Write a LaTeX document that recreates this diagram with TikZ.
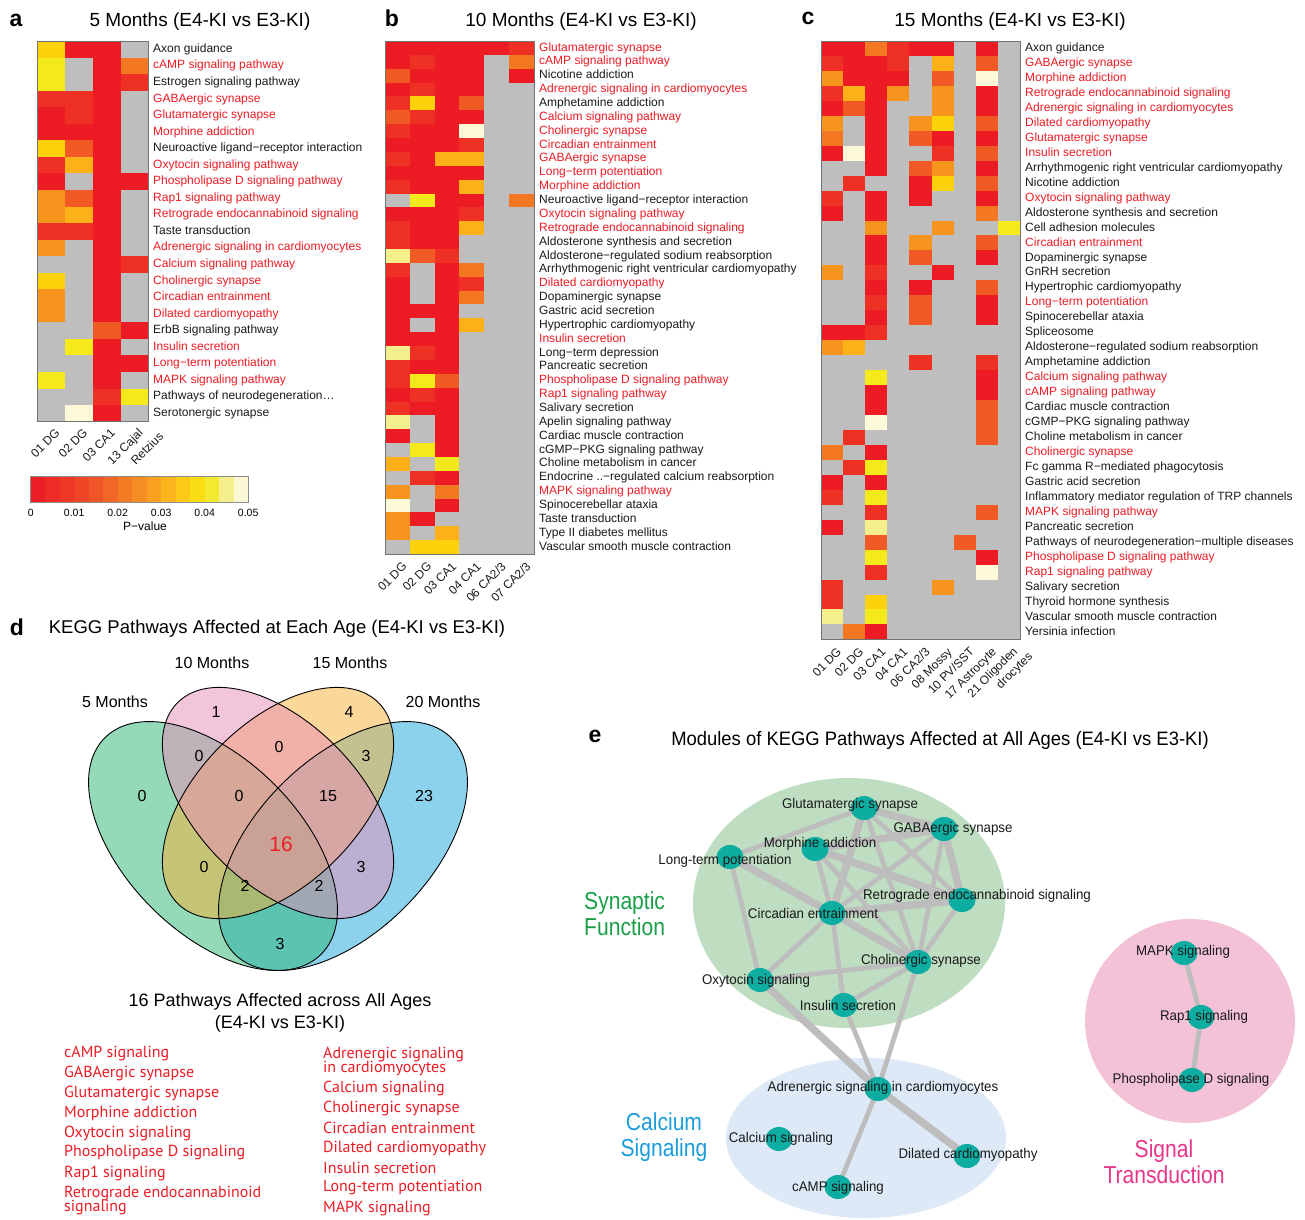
\documentclass[tikz,border=0pt]{standalone}
\usepackage{fontspec}
\setmainfont{Liberation Sans}
\newfontfamily\listfont{PT Sans}
\newfontfamily\netfont[FakeStretch=0.95]{Liberation Sans}
\newfontfamily\modfont[FakeStretch=0.86]{Liberation Sans}
\usetikzlibrary{shapes.geometric}
\definecolor{hmR}{HTML}{ED1C24}
\definecolor{hmr}{HTML}{EE3124}
\definecolor{hmO}{HTML}{F15A24}
\definecolor{hmo}{HTML}{F47721}
\definecolor{hmA}{HTML}{F7941D}
\definecolor{hmB}{HTML}{FBB117}
\definecolor{hmY}{HTML}{FDD20A}
\definecolor{hmy}{HTML}{F4EA1B}
\definecolor{hmL}{HTML}{F5F08C}
\definecolor{hmC}{HTML}{FCF9D9}
\definecolor{hmG}{HTML}{BEBEBE}
\definecolor{labk}{HTML}{1A1A1A}
\definecolor{labr}{HTML}{ED1C24}
\definecolor{vgreen}{HTML}{2BB573}
\definecolor{vpink}{HTML}{E98DB9}
\definecolor{vorange}{HTML}{F9B135}
\definecolor{vblue}{HTML}{1DA7DD}
\definecolor{mgreen}{HTML}{BFDDC1}
\definecolor{mblue}{HTML}{DDE9F6}
\definecolor{mpink}{HTML}{F3C2D6}
\definecolor{nodeteal}{HTML}{0DADA1}
\definecolor{edgegray}{HTML}{BDBDBD}
\definecolor{tgreen}{HTML}{1A9F48}
\definecolor{tblue}{HTML}{1B9DDB}
\definecolor{tpink}{HTML}{E8358A}
\pgfdeclarelayer{bgl}
\pgfdeclarelayer{edl}
\pgfsetlayers{bgl,edl,main}
\newcommand\myfs[1]{\fontsize{#1}{#1}\selectfont}
% #1 x0, #2 y0, #3 w, #4 h, #5 data
\newcommand\hmgrid[5]{\foreach \row [count=\i] in {#5} {\foreach \c [count=\j] in \row {\fill[fill=hm\c] ({#1+(\j-1)*#3},{#2+(\i-1)*#4}) rectangle ++(#3,#4);}}}
% #1 x, #2 y0, #3 h, #4 list, #5 name prefix
\newcommand\hmlabels[5]{\foreach \cc/\lbl [count=\i] in {#4} {\node[hmlab,text=lab\cc] (#5\i) at (#1,{#2+(\i-0.5)*#3}) {\lbl};}}
\begin{document}
\begin{tikzpicture}[x=1pt,y=-1pt,
  hmlab/.style={anchor=west,inner sep=0pt,font=\myfs{12},text height=8.6pt,text depth=2.4pt},
  collab/.style={anchor=east,rotate=45,inner sep=0pt,font=\myfs{12},text height=8.6pt,text depth=2.4pt,text=labk},
  hmborder/.style={draw=black!55,line width=0.6pt},
  ptitle/.style={font=\myfs{19},inner sep=0pt},
  pletter/.style={font=\myfs{23}\bfseries,inner sep=0pt},
  vlab/.style={font=\myfs{16},inner sep=0pt},
  vnum/.style={font=\myfs{16},inner sep=0pt},
  listtxt/.style={font=\listfont\myfs{16},text=labr,anchor=west,inner sep=0pt,align=left},
  pnode/.style={ellipse,fill=nodeteal,minimum width=27pt,minimum height=24pt,inner sep=0pt},
  plab/.style={font=\netfont\myfs{14},inner sep=0pt,text=black!90},
  thinedge/.style={draw=edgegray,line width=4.8pt},
  thickedge/.style={draw=edgegray,line width=7.5pt},
  modlab/.style={font=\modfont\fontsize{24.5}{26}\selectfont,inner sep=0pt}]
\begin{pgfonlayer}{bgl}
  \fill[white] (0,0) rectangle (1305,1219);
\end{pgfonlayer}
\useasboundingbox (0,0) rectangle (1305,1219);

%================ panel a
\node[pletter] (pa) at (16,20) {a};
\node[ptitle] (ta) at (200,22) {5 Months (E4-KI vs E3-KI)};
\hmgrid{37.5}{41}{27.7}{16.55}{{Y,R,R,G},{y,G,R,o},{y,G,R,r},{r,r,R,G},{R,r,R,G},{R,R,R,G},{Y,O,R,G},{r,B,R,G},{R,G,R,R},{A,O,R,G},{A,B,R,G},{r,r,R,G},{A,G,R,G},{G,G,R,r},{Y,G,R,G},{A,G,R,G},{A,G,R,G},{G,G,O,R},{G,y,R,G},{G,G,R,R},{y,G,R,G},{G,G,r,y},{G,C,R,G}}
\draw[hmborder] (37.5,41) rectangle (148.3,421.7);
\hmlabels{153}{41}{16.55}{k/Axon guidance, r/cAMP signaling pathway, k/Estrogen signaling pathway, r/GABAergic synapse, r/Glutamatergic synapse, r/Morphine addiction, k/Neuroactive ligand−receptor interaction, r/Oxytocin signaling pathway, r/Phospholipase D signaling pathway, r/Rap1 signaling pathway, r/Retrograde endocannabinoid signaling, k/Taste transduction, r/Adrenergic signaling in cardiomyocytes, r/Calcium signaling pathway, r/Cholinergic synapse, r/Circadian entrainment, r/Dilated cardiomyopathy, k/ErbB signaling pathway, r/Insulin secretion, r/Long−term potentiation, r/MAPK signaling pathway, k/Pathways of neurodegeneration\ldots, k/Serotonergic synapse}{la}
\node[collab] (ca1) at (58.4,431.7) {01 DG};
\node[collab] (ca2) at (86.1,431.7) {02 DG};
\node[collab] (ca3) at (113.8,431.7) {03 CA1};
\node[collab] (ca4) at (141.5,431.7) {13 Cajal};
\node[collab] (ca5) at (162,435) {Retzius};
% colour bar
\foreach \cc [count=\k] in {ED1F26,EE2B27,EF3727,F04527,F15527,F26626,F47A24,F68D22,F8A01F,FAB41C,FCC917,FADE14,F3E930,F4EF8A,FBF8D6}
  {\definecolor{cbtmp}{HTML}{\cc}\fill[cbtmp] ({30.7+(\k-1)*14.5},476) rectangle ++(14.5,26);}
\draw[black!45,line width=0.6pt] (30.7,476) rectangle (248.2,502);
\foreach \v [count=\k from 0] in {0,0.01,0.02,0.03,0.04,0.05}
  {\node[font=\myfs{10.5},inner sep=0pt] (cbt\k) at ({30.7+\k*43.5},513) {\v};}
\node[font=\myfs{12},inner sep=0pt] (cbl) at (145,526) {P−value};

%================ panel b
\node[pletter] (pb) at (392,18) {b};
\node[ptitle] (tb) at (581,22) {10 Months (E4-KI vs E3-KI)};
\hmgrid{385}{41}{24.8}{13.865}{{R,R,R,R,R,r},{R,r,R,R,G,o},{O,R,R,R,G,R},{R,r,R,R,G,G},{r,Y,R,O,G,G},{O,r,R,R,G,G},{r,R,R,C,G,G},{R,R,R,r,G,G},{r,R,B,B,G,G},{R,R,R,R,G,G},{r,R,R,B,G,G},{G,y,R,R,G,o},{R,R,R,r,G,G},{r,R,R,B,G,G},{r,R,R,G,G,G},{L,O,r,G,G,G},{r,G,R,o,G,G},{R,G,R,r,G,G},{R,G,R,o,G,G},{R,R,R,G,G,G},{R,G,R,B,G,G},{R,R,R,G,G,G},{L,r,R,G,G,G},{r,R,R,G,G,G},{r,y,O,G,G,G},{R,r,R,G,G,G},{r,R,R,G,G,G},{L,G,R,G,G,G},{R,G,R,G,G,G},{G,y,R,G,G,G},{B,G,y,G,G,G},{G,r,R,G,G,G},{A,G,o,G,G,G},{C,G,R,G,G,G},{A,R,G,G,G,G},{A,G,B,G,G,G},{G,Y,Y,G,G,G}}
\draw[hmborder] (385,41) rectangle (533.8,554);
\hmlabels{539}{41}{13.865}{r/Glutamatergic synapse, r/cAMP signaling pathway, k/Nicotine addiction, r/Adrenergic signaling in cardiomyocytes, k/Amphetamine addiction, r/Calcium signaling pathway, r/Cholinergic synapse, r/Circadian entrainment, r/GABAergic synapse, r/Long−term potentiation, r/Morphine addiction, k/Neuroactive ligand−receptor interaction, r/Oxytocin signaling pathway, r/Retrograde endocannabinoid signaling, k/Aldosterone synthesis and secretion, k/Aldosterone−regulated sodium reabsorption, k/Arrhythmogenic right ventricular cardiomyopathy, r/Dilated cardiomyopathy, k/Dopaminergic synapse, k/Gastric acid secretion, k/Hypertrophic cardiomyopathy, r/Insulin secretion, k/Long−term depression, k/Pancreatic secretion, r/Phospholipase D signaling pathway, r/Rap1 signaling pathway, k/Salivary secretion, k/Apelin signaling pathway, k/Cardiac muscle contraction, k/cGMP−PKG signaling pathway, k/Choline metabolism in cancer, k/Endocrine .\kern0pt.−regulated calcium reabsorption, r/MAPK signaling pathway, k/Spinocerebellar ataxia, k/Taste transduction, k/Type II diabetes mellitus, k/Vascular smooth muscle contraction}{lb}
\node[collab] (cb1) at (405.4,565) {01 DG};
\node[collab] (cb2) at (430.2,565) {02 DG};
\node[collab] (cb3) at (455,565) {03 CA1};
\node[collab] (cb4) at (479.8,565) {04 CA1};
\node[collab] (cb5) at (504.6,565) {06 CA2/3};
\node[collab] (cb6) at (529.4,565) {07 CA2/3};

%================ panel c
\node[pletter] (pc) at (808,18) {c};
\node[ptitle] (tc) at (1010,22) {15 Months (E4-KI vs E3-KI)};
\hmgrid{821}{41}{22.1}{14.96}{{R,R,o,r,R,R,G,R,G},{r,R,R,r,G,B,G,O,G},{A,R,R,R,G,O,G,C,G},{r,B,R,A,G,A,G,R,G},{R,O,R,G,G,A,G,R,G},{A,G,R,G,A,Y,G,O,G},{o,G,R,G,O,R,G,R,G},{R,C,R,G,G,r,G,O,G},{G,G,R,G,O,A,G,R,G},{G,r,G,G,R,Y,G,O,G},{r,G,R,G,R,G,G,R,G},{R,G,R,G,G,G,G,o,G},{G,G,A,G,G,A,G,G,y},{G,G,R,G,A,G,G,O,G},{G,G,R,G,O,G,G,R,G},{A,G,r,G,G,R,G,G,G},{G,G,R,G,R,G,G,O,G},{G,G,r,G,O,G,G,R,G},{G,G,R,G,O,G,G,R,G},{R,R,r,G,G,G,G,G,G},{A,B,G,G,G,G,G,G,G},{G,G,G,G,r,G,G,r,G},{G,G,y,G,G,G,G,R,G},{G,G,R,G,G,G,G,R,G},{G,G,R,G,G,G,G,O,G},{G,G,C,G,G,G,G,O,G},{G,r,G,G,G,G,G,O,G},{o,G,R,G,G,G,G,G,G},{G,r,y,G,G,G,G,G,G},{R,G,R,G,G,G,G,G,G},{r,G,y,G,G,G,G,G,G},{G,G,r,G,G,G,G,O,G},{R,G,L,G,G,G,G,G,G},{G,G,O,G,G,G,O,G,G},{G,G,y,G,G,G,G,R,G},{G,G,r,G,G,G,G,C,G},{r,G,G,G,G,A,G,G,G},{r,G,Y,G,G,G,G,G,G},{L,G,y,G,G,G,G,G,G},{G,o,R,G,G,G,G,G,G}}
\draw[hmborder] (821,41) rectangle (1019.9,639.4);
\hmlabels{1025}{41}{14.96}{k/Axon guidance, r/GABAergic synapse, r/Morphine addiction, r/Retrograde endocannabinoid signaling, r/Adrenergic signaling in cardiomyocytes, r/Dilated cardiomyopathy, r/Glutamatergic synapse, r/Insulin secretion, k/Arrhythmogenic right ventricular cardiomyopathy, k/Nicotine addiction, r/Oxytocin signaling pathway, k/Aldosterone synthesis and secretion, k/Cell adhesion molecules, r/Circadian entrainment, k/Dopaminergic synapse, k/GnRH secretion, k/Hypertrophic cardiomyopathy, r/Long−term potentiation, k/Spinocerebellar ataxia, k/Spliceosome, k/Aldosterone−regulated sodium reabsorption, k/Amphetamine addiction, r/Calcium signaling pathway, r/cAMP signaling pathway, k/Cardiac muscle contraction, k/cGMP−PKG signaling pathway, k/Choline metabolism in cancer, r/Cholinergic synapse, k/Fc gamma R−mediated phagocytosis, k/Gastric acid secretion, k/Inflammatory mediator regulation of TRP channels, r/MAPK signaling pathway, k/Pancreatic secretion, k/Pathways of neurodegeneration−multiple diseases, r/Phospholipase D signaling pathway, r/Rap1 signaling pathway, k/Salivary secretion, k/Thyroid hormone synthesis, k/Vascular smooth muscle contraction, k/Yersinia infection}{lc}
\node[collab] (cc1) at (840,650.4) {01 DG};
\node[collab] (cc2) at (862.2,650.4) {02 DG};
\node[collab] (cc3) at (884.3,650.4) {03 CA1};
\node[collab] (cc4) at (906.4,650.4) {04 CA1};
\node[collab] (cc5) at (928.5,650.4) {06 CA2/3};
\node[collab] (cc6) at (950.6,650.4) {08 Mossy};
\node[collab] (cc7) at (972.7,650.4) {10 PV/SST};
\node[collab] (cc8) at (994.8,650.4) {17 Astrocyte};
\node[collab] (cc9) at (1016,650) {21 Oligoden};
\node[collab] (cc10) at (1031,655) {drocytes};

%================ panel d
\node[pletter] (pd) at (17,627) {d};
\node[font=\myfs{18.5},inner sep=0pt] (td) at (277,629) {KEGG Pathways Affected at Each Age (E4-KI vs E3-KI)};
\begin{scope}[fill opacity=0.5]
  \fill[vblue,rotate around={45:(343,846)}] (343,846) ellipse [x radius=153,y radius=87];
  \fill[vgreen,rotate around={-45:(213,846)}] (213,846) ellipse [x radius=153,y radius=87];
  \fill[vorange,rotate around={45:(278,803)}] (278,803) ellipse [x radius=142,y radius=81];
  \fill[vpink,rotate around={-45:(278,803)}] (278,803) ellipse [x radius=142,y radius=81];
\end{scope}
\begin{scope}[draw=black,line width=0.9pt]
  \draw[rotate around={45:(343,846)}] (343,846) ellipse [x radius=153,y radius=87];
  \draw[rotate around={-45:(213,846)}] (213,846) ellipse [x radius=153,y radius=87];
  \draw[rotate around={45:(278,803)}] (278,803) ellipse [x radius=142,y radius=81];
  \draw[rotate around={-45:(278,803)}] (278,803) ellipse [x radius=142,y radius=81];
\end{scope}
\node[vlab] (s5) at (115,702) {5 Months};
\node[vlab] (s10) at (212,663) {10 Months};
\node[vlab] (s15) at (350,663) {15 Months};
\node[vlab] (s20) at (443,702) {20 Months};
\node[vnum] (n1) at (216,712) {1};
\node[vnum] (n2) at (349,712) {4};
\node[vnum] (n3) at (199,756) {0};
\node[vnum] (n4) at (279,747) {0};
\node[vnum] (n5) at (366,756) {3};
\node[vnum] (n6) at (142,796) {0};
\node[vnum] (n7) at (239,796) {0};
\node[vnum] (n8) at (328,796) {15};
\node[vnum] (n9) at (424,796) {23};
\node[vnum,font=\myfs{21},text=labr] (n10) at (281,844) {16};
\node[vnum] (n11) at (204,867) {0};
\node[vnum] (n12) at (361,867) {3};
\node[vnum] (n13) at (245,886) {2};
\node[vnum] (n14) at (319,886) {2};
\node[vnum] (n15) at (280,944) {3};
\node[font=\myfs{18},inner sep=0pt,align=center] (t16) at (280,1013) {16 Pathways Affected across All Ages\\[4pt](E4-KI vs E3-KI)};
\node[listtxt] (m1) at (64,1053) {cAMP signaling};
\node[listtxt] (m2) at (64,1073) {GABAergic synapse};
\node[listtxt] (m3) at (64,1093) {Glutamatergic synapse};
\node[listtxt] (m4) at (64,1113) {Morphine addiction};
\node[listtxt] (m5) at (64,1133) {Oxytocin signaling};
\node[listtxt] (m6) at (64,1153) {Phospholipase D signaling};
\node[listtxt] (m7) at (64,1173) {Rap1 signaling};
\node[listtxt] (m8) at (64,1201) {Retrograde endocannabinoid\\[-2pt]signaling};
\node[listtxt] (m9) at (323,1061) {Adrenergic signaling\\[-2pt]in cardiomyocytes};
\node[listtxt] (m10) at (323,1088) {Calcium signaling};
\node[listtxt] (m11) at (323,1108) {Cholinergic synapse};
\node[listtxt] (m12) at (323,1128) {Circadian entrainment};
\node[listtxt] (m13) at (323,1148) {Dilated cardiomyopathy};
\node[listtxt] (m14) at (323,1168) {Insulin secretion};
\node[listtxt] (m15) at (323,1188) {Long-term potentiation};
\node[listtxt] (m16) at (323,1208) {MAPK signaling};

%================ panel e
\node[pletter] (pe) at (595,736) {e};
\node[font=\netfont\myfs{19.4},inner sep=0pt] (te) at (940,740) {Modules of KEGG Pathways Affected at All Ages (E4-KI vs E3-KI)};
\begin{pgfonlayer}{bgl}
  \fill[mgreen] (849,903) ellipse [x radius=156,y radius=125];
  \fill[mblue] (866,1138) ellipse [x radius=140,y radius=80];
  \fill[mpink] (1190,1021) ellipse [x radius=105,y radius=102];
\end{pgfonlayer}
\node[pnode] (glu) at (864,808) {};
\node[pnode] (gaba) at (944,829) {};
\node[pnode] (mor) at (815,849) {};
\node[pnode] (ltp) at (730,857) {};
\node[pnode] (ret) at (962,900) {};
\node[pnode] (cir) at (832,913) {};
\node[pnode] (cho) at (918,962) {};
\node[pnode] (oxy) at (760,980) {};
\node[pnode] (ins) at (844,1005) {};
\node[pnode] (adr) at (878,1089) {};
\node[pnode] (cal) at (779,1139) {};
\node[pnode] (dil) at (967,1156) {};
\node[pnode] (camp) at (838,1187) {};
\node[pnode] (mapk) at (1184,953) {};
\node[pnode] (rap) at (1201,1017) {};
\node[pnode] (pld) at (1192,1080) {};
\begin{pgfonlayer}{edl}
  \foreach \a/\b in {glu/gaba,glu/cir,gaba/mor,gaba/ret,mor/ret,cir/ret,cir/cho,ltp/cir,oxy/adr,adr/dil}
    {\draw[thickedge] (\a.center) -- (\b.center);}
  \foreach \a/\b in {glu/ltp,glu/ret,glu/cho,gaba/cir,gaba/cho,mor/cir,mor/cho,ltp/oxy,cir/oxy,cir/ins,ret/cho,cho/oxy,cho/ins,cho/adr,ins/adr,adr/camp,mapk/rap,rap/pld}
    {\draw[thinedge] (\a.center) -- (\b.center);}
\end{pgfonlayer}
\node[plab] (lglu) at (850,805) {Glutamatergic synapse};
\node[plab] (lgaba) at (953,829) {GABAergic synapse};
\node[plab] (lmor) at (820,844) {Morphine addiction};
\node[plab] (lltp) at (725,861) {Long-term potentiation};
\node[plab] (lret) at (977,896) {Retrograde endocannabinoid signaling};
\node[plab] (lcir) at (813,913) {Circadian entrainment};
\node[plab] (lcho) at (921,961) {Cholinergic synapse};
\node[plab] (loxy) at (756,981) {Oxytocin signaling};
\node[plab] (lins) at (848,1005) {Insulin secretion};
\node[plab] (ladr) at (883,1088) {Adrenergic signaling in cardiomyocytes};
\node[plab] (lcal) at (781,1139) {Calcium signaling};
\node[plab] (ldil) at (968,1155) {Dilated cardiomyopathy};
\node[plab] (lcamp) at (838,1188) {cAMP signaling};
\node[plab] (lmapk) at (1183,952) {MAPK signaling};
\node[plab] (lrap) at (1204,1017) {Rap1 signaling};
\node[plab] (lpld) at (1191,1080) {Phospholipase D signaling};
\node[modlab,text=tgreen,align=left,anchor=west] (msyn) at (584,914) {Synaptic\\Function};
\node[modlab,text=tblue,align=center] (mcal) at (664,1137) {Calcium\\Signaling};
\node[modlab,text=tpink,align=center] (msig) at (1164,1162) {Signal\\Transduction};
\end{tikzpicture}
\end{document}
